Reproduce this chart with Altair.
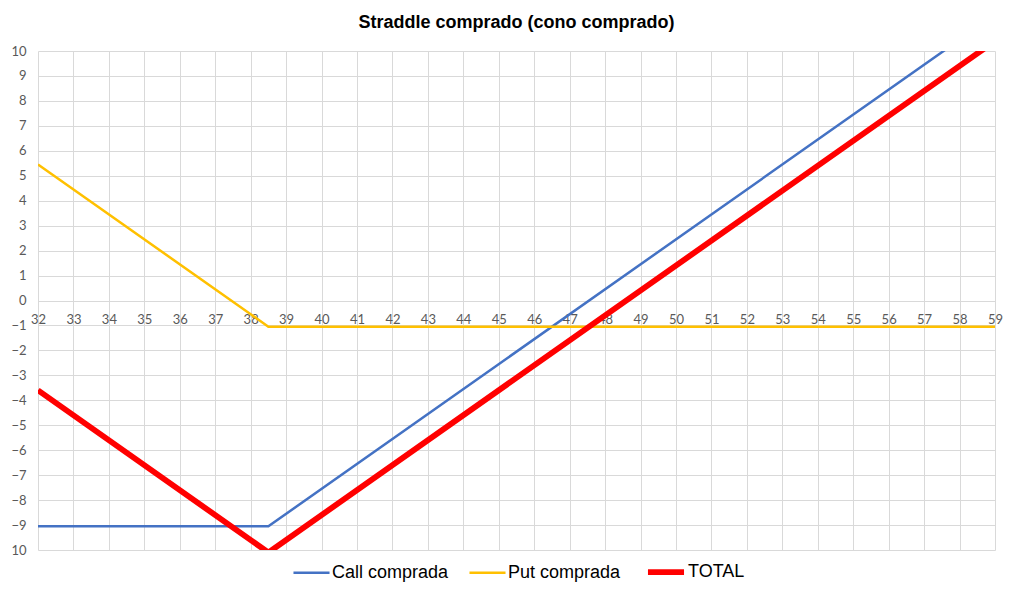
import json
import altair as alt
import pandas as pd

# Underlying price points (kink at strike 38.5)
prices = [32, 38.5, 59]
call_comprada = [-9.05, -9.05, 11.45]
put_comprada = [5.45, -1.05, -1.05]
total = [-3.6, -10.1, 10.4]

series_names = ["Call comprada", "Put comprada", "TOTAL"]
series_colors = ["#4472C4", "#FFC000", "#FF0000"]
series_widths = [2.5, 2.5, 5.8]

x_ticks = list(range(32, 60))
y_ticks = list(range(-10, 11))

rows = []
for name, vals in zip(series_names, [call_comprada, put_comprada, total]):
    for p, v in zip(prices, vals):
        rows.append({"precio": p, "valor": v, "serie": name})
df = pd.DataFrame(rows)

W, H = 957, 499
names_js = json.dumps(series_names)

leg = dict(title=None, orient="none", direction="horizontal",
           legendX=254, legendY=500, symbolType="stroke",
           symbolSize=1300, labelFontSize=18,
           labelFont="Liberation Sans", labelColor="#000000",
           columnPadding=15, labelOffset=1,
           labelExpr=f"{names_js}[datum.index]")

chart = alt.Chart(df).transform_calculate(
    idx=f"indexof({names_js}, datum.serie)"
).mark_line(clip=True, strokeCap="butt", strokeJoin="miter").encode(
    x=alt.X("precio:Q",
            scale=alt.Scale(domain=[32, 59], nice=False, zero=False),
            axis=alt.Axis(values=x_ticks, title=None, offset=-(H / 2), domain=False,
                          ticks=False, labelPadding=13, labelFontSize=13,
                          labelColor="#595959", labelFont="Lato",
                          gridColor="#d9d9d9", labelFlush=False)),
    y=alt.Y("valor:Q",
            scale=alt.Scale(domain=[-10, 10], nice=False, zero=False),
            axis=alt.Axis(values=y_ticks, title=None, domain=False, ticks=False,
                          labelPadding=12, labelFontSize=13, labelColor="#595959",
                          labelFont="Lato", gridColor="#d9d9d9",
                          labelExpr="datum.value == -10 ? '10' : datum.label")),
    detail="serie:N",
    color=alt.Color("idx:Q",
                    scale=alt.Scale(type="threshold", domain=[0.5, 1.5], range=series_colors),
                    legend=alt.Legend(**leg)),
    strokeWidth=alt.StrokeWidth("idx:Q",
                                scale=alt.Scale(type="threshold", domain=[0.5, 1.5],
                                                range=series_widths),
                                legend=alt.Legend(**leg)),
).properties(
    width=W,
    height=H,
    title=alt.Title("Straddle comprado (cono comprado)", font="Liberation Sans",
                    fontSize=18, fontWeight="bold", color="#000000", anchor="middle",
                    offset=13),
    autosize=alt.AutoSizeParams(type="none"),
    padding={"left": 30, "top": 43, "right": 8, "bottom": 34},
).configure_view(stroke=None).configure_axis(gridWidth=1)

chart.save("out.html", embed_options={"renderer": "svg", "actions": False})
